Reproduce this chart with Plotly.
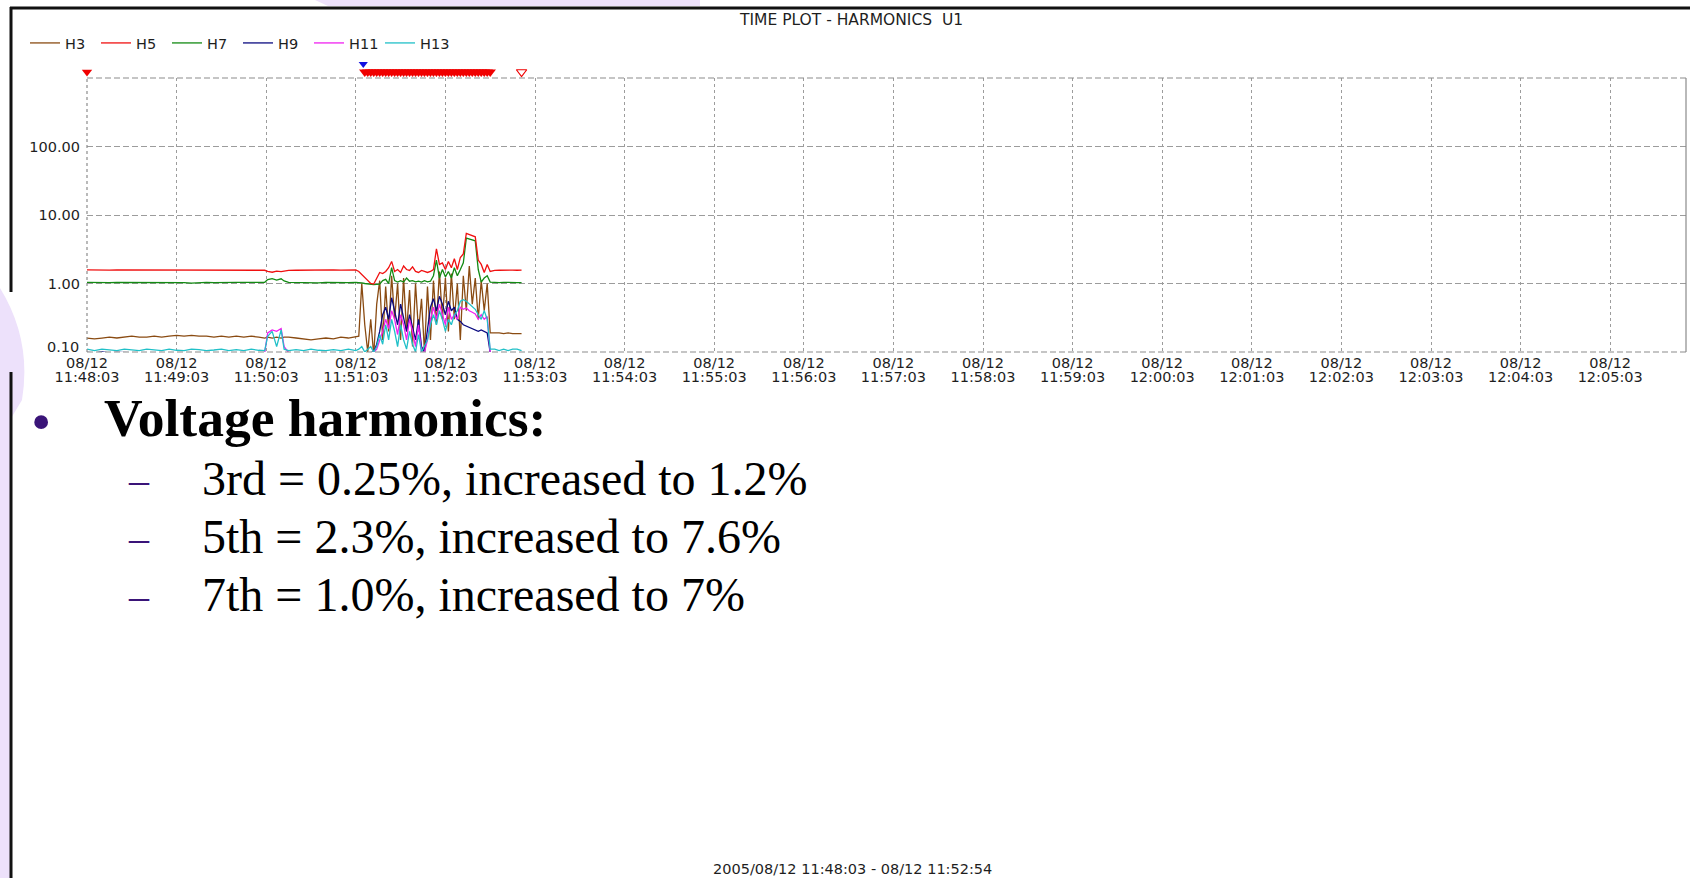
import plotly.graph_objects as go

# ---------------- data (seconds after 2005/08/12 11:48:03) ----------------
t_sec = [0, 5, 10, 15, 20, 25, 30, 35, 40, 45,
         50, 55, 60, 65, 70, 75, 80, 85, 90, 95,
         100, 105, 110, 115, 119, 121, 124, 127, 130, 132,
         135, 140, 145, 150, 155, 160, 165, 170, 175, 180,
         182, 184, 186, 188, 190, 192, 194, 196, 198, 200,
         202, 204, 206, 208, 210, 212, 214, 216, 218, 220,
         222, 224, 226, 228, 230, 232, 234, 236, 238, 240,
         242, 244, 246, 248, 250, 252, 254, 256, 258, 260,
         262, 264, 266, 268, 270,
         273, 276, 279, 282, 285, 288, 291]

h3 = [0.16, 0.155, 0.16, 0.165, 0.16, 0.165, 0.17, 0.165, 0.165, 0.17,
      0.165, 0.17, 0.175, 0.17, 0.175, 0.17, 0.17, 0.165, 0.17, 0.165,
      0.17, 0.165, 0.17, 0.165, 0.16, 0.165, 0.16, 0.165, 0.16, 0.165,
      0.165, 0.16, 0.155, 0.15, 0.155, 0.16, 0.155, 0.165, 0.16, 0.165,
      0.17, 1.0, 0.25, 0.1, 0.3, 0.09, 0.5, 1.1, 0.15, 0.9,
      0.2, 1.3, 0.3, 1.0, 0.15, 1.2, 0.2, 0.8, 0.12, 1.0,
      0.2, 0.6, 0.1, 0.9, 0.15, 1.1, 0.25, 1.5, 0.3, 1.2,
      0.2, 1.4, 0.3, 1.0, 0.15, 1.3, 0.4, 1.8, 0.5, 1.2,
      0.3, 1.1, 0.4, 1.0, 0.19,
      0.19, 0.19, 0.185, 0.19, 0.185, 0.185, 0.185]

h5 = [1.58, 1.57, 1.58, 1.57, 1.58, 1.58, 1.57, 1.58, 1.58, 1.57,
      1.58, 1.59, 1.58, 1.57, 1.58, 1.57, 1.58, 1.58, 1.57, 1.58,
      1.57, 1.58, 1.58, 1.57, 1.56, 1.50, 1.46, 1.52, 1.49, 1.52,
      1.55, 1.56, 1.57, 1.57, 1.58, 1.57, 1.58, 1.57, 1.58, 1.58,
      1.5, 1.35, 1.2, 1.08, 1.0, 0.98, 1.2, 1.45, 1.4, 1.5,
      1.7, 2.1, 1.5, 1.6, 1.45, 1.8, 1.6, 1.55, 1.75, 1.5,
      1.45, 1.55, 1.5, 1.45, 1.5, 1.6, 3.2, 1.9, 2.0, 1.6,
      2.1, 1.7, 2.3, 1.6, 2.4, 2.7, 5.4, 5.2, 5.1, 4.8,
      2.2, 1.9, 1.45, 1.9, 1.5,
      1.55, 1.56, 1.57, 1.56, 1.57, 1.56, 1.57]

h7 = [1.04, 1.03, 1.04, 1.03, 1.04, 1.04, 1.03, 1.04, 1.04, 1.03,
      1.04, 1.03, 1.04, 1.03, 1.01, 1.03, 1.04, 1.03, 1.04, 1.03,
      1.04, 1.04, 1.03, 1.04, 1.04, 1.14, 1.18, 1.12, 1.17, 1.09,
      1.04, 1.03, 1.04, 1.03, 1.02, 1.04, 1.03, 1.04, 1.03, 1.04,
      1.04, 1.02, 1.0, 0.98, 0.97, 0.96, 0.97, 0.98, 1.1, 1.15,
      1.0, 1.7, 1.1, 1.05, 1.1, 1.05, 1.2, 1.08, 1.1, 1.06,
      1.08, 1.05, 1.1, 1.06, 1.08, 1.3, 2.2, 1.2, 1.6, 1.25,
      1.5, 1.2, 1.7, 1.3, 1.6, 2.0, 4.6, 4.5, 4.3, 4.2,
      1.6, 1.05, 1.2, 1.3, 1.05,
      1.03, 1.03, 1.04, 1.03, 1.04, 1.03, 1.03]

h9 = [0.099, 0.097, 0.1, 0.097, 0.099, 0.098, 0.098, 0.097, 0.098, 0.098,
      0.097, 0.098, 0.098, 0.097, 0.098, 0.098, 0.097, 0.098, 0.098, 0.097,
      0.098, 0.098, 0.097, 0.098, 0.098, 0.098, 0.097, 0.098, 0.098, 0.098,
      0.097, 0.098, 0.098, 0.097, 0.098, 0.098, 0.097, 0.098, 0.098, 0.098,
      0.098, 0.098, 0.098, 0.098, 0.098, 0.1, 0.13, 0.2, 0.35, 0.45,
      0.3, 0.62, 0.4, 0.25, 0.5, 0.3, 0.2, 0.35, 0.22, 0.15,
      0.3, 0.12, 0.1, 0.2, 0.45, 0.6, 0.4, 0.65, 0.5, 0.35,
      0.55, 0.4, 0.45, 0.3, 0.28, 0.25, 0.24, 0.23, 0.22, 0.21,
      0.2, 0.21, 0.2, 0.19, 0.098,
      0.098, 0.098, 0.098, 0.098, 0.098, 0.098, 0.098]

h11 = [0.098, 0.098, 0.097, 0.098, 0.098, 0.099, 0.098, 0.098, 0.097, 0.098,
       0.098, 0.098, 0.098, 0.097, 0.098, 0.098, 0.098, 0.099, 0.098, 0.098,
       0.098, 0.097, 0.098, 0.098, 0.098, 0.19, 0.21, 0.2, 0.22, 0.12,
       0.098, 0.098, 0.097, 0.098, 0.098, 0.098, 0.098, 0.097, 0.098, 0.098,
       0.098, 0.098, 0.098, 0.098, 0.098, 0.099, 0.11, 0.15, 0.2, 0.3,
       0.22, 0.4, 0.3, 0.18, 0.35, 0.25, 0.15, 0.3, 0.2, 0.12,
       0.25, 0.1, 0.099, 0.15, 0.3, 0.45, 0.3, 0.5, 0.35, 0.25,
       0.45, 0.3, 0.35, 0.3, 0.45, 0.42, 0.44, 0.4, 0.38, 0.36,
       0.3, 0.35, 0.3, 0.33, 0.098,
       0.098, 0.098, 0.098, 0.098, 0.098, 0.098, 0.098]

h13 = [0.11, 0.105, 0.11, 0.108, 0.105, 0.11, 0.107, 0.105, 0.11, 0.108,
       0.105, 0.11, 0.106, 0.105, 0.11, 0.108, 0.105, 0.107, 0.11, 0.105,
       0.108, 0.105, 0.11, 0.106, 0.105, 0.17, 0.2, 0.12, 0.21, 0.11,
       0.105, 0.108, 0.105, 0.11, 0.106, 0.105, 0.108, 0.105, 0.11, 0.105,
       0.11, 0.12, 0.1, 0.11, 0.12, 0.1, 0.12, 0.18, 0.13, 0.25,
       0.15, 0.3, 0.2, 0.12, 0.25, 0.15, 0.11, 0.2, 0.13, 0.1,
       0.18, 0.1, 0.12, 0.15, 0.25, 0.35, 0.25, 0.4, 0.3, 0.2,
       0.3, 0.25, 0.35, 0.4, 0.55, 0.58, 0.55, 0.5, 0.45, 0.42,
       0.35, 0.3, 0.4, 0.3, 0.11,
       0.11, 0.105, 0.11, 0.105, 0.11, 0.11, 0.105]

# event markers (seconds)
alarm_sec = [186, 188, 190, 192, 194, 196, 198, 200, 202, 204, 206, 208, 210,
             212, 214, 216, 218, 220, 222, 224, 226, 228, 230, 232, 234, 236,
             238, 240, 242, 244, 246, 248, 250, 252, 254, 256, 258, 260, 262,
             264, 266, 268, 270]
start_sec = [0]
cursor_sec = [185]
end_sec = [291]

tick_dates = ["08/12"] * 18
tick_times = ["11:48:03", "11:49:03", "11:50:03", "11:51:03", "11:52:03", "11:53:03",
              "11:54:03", "11:55:03", "11:56:03", "11:57:03", "11:58:03", "11:59:03",
              "12:00:03", "12:01:03", "12:02:03", "12:03:03", "12:04:03", "12:05:03"]
y_tickvals = [0.1, 1, 10, 100]
y_ticktext = ["", "1.00", "10.00", "100.00"]
y_bottom_label = "0.10"

series_names = ["H3", "H5", "H7", "H9", "H11", "H13"]
series_colors = ["#8a4b12", "#f01010", "#138a13", "#0a0a80", "#f020f0", "#20c0c8"]

title_text = "TIME PLOT - HARMONICS  U1"
footer_text = "2005/08/12 11:48:03 - 08/12 11:52:54"
heading_text = "Voltage harmonics:"
bullet_items = ["3rd = 0.25%, increased to 1.2%",
                "5th = 2.3%, increased to 7.6%",
                "7th = 1.0%, increased to 7%"]

# ---------------- layout geometry (pixels) ----------------
W, H = 1690, 878
ML, MR, MT, MB = 87, 4, 58, 526
PLOT_TOP = 78
PW = W - ML - MR
PH = H - MT - MB


def px(x):
    return (x - ML) / PW


def py(y):
    return (H - MB - y) / PH


main_top = py(PLOT_TOP)
x_max = PW * 60 / 89.6
lane_y = lambda ypix: (PLOT_TOP - ypix) / (PLOT_TOP - MT)

SANS = "DejaVu Sans, Verdana, sans-serif"
SERIF = "Liberation Serif, Times New Roman, serif"
PURPLE = "#3a1478"
TXT = "#1e1e1e"

fig = go.Figure()
values = {"H3": h3, "H5": h5, "H7": h7, "H9": h9, "H11": h11, "H13": h13}
draw_order = ["H3", "H9", "H11", "H13", "H7", "H5"]
for name in draw_order:
    i = series_names.index(name)
    fig.add_trace(go.Scatter(
        x=t_sec, y=values[name], mode="lines", name=name,
        line=dict(color=series_colors[i], width=1.3),
        legendrank=i + 1, hoverinfo="skip"))

# event markers in a thin lane above the plot
ev = dict(xaxis="x3", yaxis="y2", mode="markers", cliponaxis=False,
          showlegend=False, hoverinfo="skip")
fig.add_trace(go.Scatter(x=alarm_sec, y=[lane_y(72)] * len(alarm_sec),
                         marker=dict(symbol="triangle-down", size=10, color="#f00000"), **ev))
fig.add_trace(go.Scatter(x=start_sec, y=[lane_y(72)] * len(start_sec),
                         marker=dict(symbol="triangle-down", size=9, color="#f00000"), **ev))
fig.add_trace(go.Scatter(x=cursor_sec, y=[lane_y(64)] * len(cursor_sec),
                         marker=dict(symbol="triangle-down", size=8, color="#1010e0"), **ev))
fig.add_trace(go.Scatter(x=end_sec, y=[lane_y(72)] * len(end_sec),
                         marker=dict(symbol="triangle-down-open", size=9, color="#f00000",
                                     line=dict(width=1.2)), **ev))
# helper trace so the second (time-of-day) label axis is rendered
fig.add_trace(go.Scatter(x=[t_sec[0]], y=[h5[0]], xaxis="x2", mode="markers",
                         marker=dict(opacity=0), showlegend=False, hoverinfo="skip"))

tickvals = [60 * i for i in range(len(tick_times))]
grid_col = "#9c9c9c"

fig.update_layout(
    width=W, height=H,
    margin=dict(l=ML, r=MR, t=MT, b=MB, pad=0),
    paper_bgcolor="white", plot_bgcolor="white",
    font=dict(family=SANS, size=15, color=TXT),
    xaxis=dict(range=[0, x_max], tickvals=tickvals, ticktext=tick_dates,
               showgrid=True, gridcolor=grid_col, griddash="3px,3px", gridwidth=1,
               zeroline=False, showline=False, ticks="", ticklabelstandoff=0,
               tickfont=dict(size=14.5)),
    xaxis2=dict(range=[0, x_max], tickvals=tickvals, ticktext=tick_times,
                overlaying="x", side="bottom", anchor="y", showgrid=False,
                zeroline=False, showline=False, ticks="", ticklabelstandoff=14,
                tickfont=dict(size=14.5)),
    xaxis3=dict(range=[0, x_max], overlaying="x", anchor="y2", visible=False,
                showgrid=False),
    yaxis=dict(type="log", range=[-1, 3], domain=[0, main_top],
               tickvals=y_tickvals, ticktext=y_ticktext,
               showgrid=True, gridcolor=grid_col, griddash="6px,3px", gridwidth=1,
               zeroline=False, showline=False, ticks="", ticklabelstandoff=6,
               tickfont=dict(size=14.5)),
    yaxis2=dict(range=[0, 1], domain=[main_top, 1], visible=False, showgrid=False),
    legend=dict(orientation="h", x=px(25), y=py(43), xanchor="left", yanchor="middle",
                font=dict(size=14.5, color=TXT), bgcolor="rgba(0,0,0,0)",
                entrywidth=26, entrywidthmode="pixels", tracegroupgap=0,
                traceorder="normal"),
    showlegend=True,
)

shapes = []
# slide background decoration
shapes.append(dict(type="path", xref="paper", yref="paper", layer="below",
                   path="M {} {} L {} {} L {} {} L {} {} Z".format(px(315), py(0), px(700), py(0),
                                                                    px(700), py(6), px(328), py(6)),
                   fillcolor="#ede1fb", line=dict(width=0)))
shapes.append(dict(type="path", xref="paper", yref="paper", layer="below",
                   path="M {} {} Q {} {} {} {} L {} {} L {} {} L {} {} Z".format(
                       px(0), py(288), px(32), py(340), px(22), py(400),
                       px(10), py(420), px(10), py(878), px(0), py(878)),
                   fillcolor="#ede1fb", line=dict(width=0)))
# black frame of the captured chart
shapes.append(dict(type="line", xref="paper", yref="paper", x0=px(10), x1=px(1690),
                   y0=py(8), y1=py(8), line=dict(color="#111111", width=3)))
shapes.append(dict(type="line", xref="paper", yref="paper", x0=px(11), x1=px(11),
                   y0=py(7), y1=py(292), line=dict(color="#111111", width=3)))
shapes.append(dict(type="line", xref="paper", yref="paper", x0=px(11), x1=px(11),
                   y0=py(372), y1=py(878), line=dict(color="#111111", width=3)))
# plot-area border: dashed top / left / bottom, solid right
for (x0, y0, x1, y1, dash) in [(0, main_top, 1, main_top, "6px,3px"),
                               (0, 0, 1, 0, "6px,3px"),
                               (0, 0, 0, main_top, "3px,3px")]:
    shapes.append(dict(type="line", xref="paper", yref="paper", x0=x0, y0=y0, x1=x1, y1=y1,
                       line=dict(color="#8c8c8c", width=1.2, dash=dash)))
shapes.append(dict(type="line", xref="paper", yref="paper", x0=1, x1=1, y0=0, y1=main_top,
                   line=dict(color="#8a8a8a", width=1.2)))
fig.update_layout(shapes=shapes)

ann = []
ann.append(dict(text=title_text, x=px(851), y=py(20), xref="paper", yref="paper",
                xanchor="center", yanchor="middle", showarrow=False,
                font=dict(family=SANS, size=15.5, color=TXT)))
ann.append(dict(text=footer_text, x=px(852), y=py(869), xref="paper", yref="paper",
                xanchor="center", yanchor="middle", showarrow=False,
                font=dict(family=SANS, size=14.5, color=TXT)))
ann.append(dict(text=y_bottom_label, x=px(81), y=py(347), xref="paper", yref="paper",
                xanchor="right", yanchor="middle", showarrow=False,
                font=dict(family=SANS, size=14.5, color=TXT)))
ann.append(dict(text="•", x=px(41), y=py(421), xref="paper", yref="paper",
                xanchor="center", yanchor="middle", showarrow=False,
                font=dict(family=SERIF, size=58, color=PURPLE)))
ann.append(dict(text="<b>" + heading_text + "</b>", x=px(102), y=py(418), xref="paper",
                yref="paper", xanchor="left", yanchor="middle", showarrow=False,
                font=dict(family=SERIF, size=53.5, color="#000000")))
line_y = [478, 536, 594]
for txt, yy in zip(bullet_items, line_y):
    ann.append(dict(text="–", x=px(139), y=py(yy + 1), xref="paper", yref="paper",
                    xanchor="center", yanchor="middle", showarrow=False,
                    font=dict(family=SERIF, size=40, color=PURPLE)))
    ann.append(dict(text=txt, x=px(200), y=py(yy), xref="paper", yref="paper",
                    xanchor="left", yanchor="middle", showarrow=False,
                    font=dict(family=SERIF, size=48, color="#000000")))
fig.update_layout(annotations=ann)

fig.write_html("out.html")
